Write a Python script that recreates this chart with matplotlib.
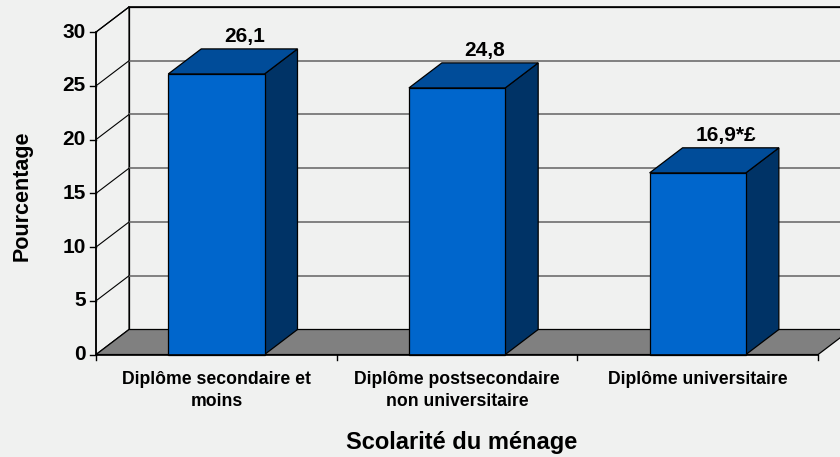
import matplotlib
matplotlib.use("Agg")
import matplotlib.pyplot as plt
from matplotlib.patches import Polygon

# -- Data ---------------------------------------------------------------------
categories = ["Diplôme secondaire et\nmoins",
              "Diplôme postsecondaire\nnon universitaire",
              "Diplôme universitaire"]
values = [26.1, 24.8, 16.9]
value_labels = ["26,1", "24,8", "16,9*£"]
yticks = [0, 5, 10, 15, 20, 25, 30]

# -- Style --------------------------------------------------------------------
BG = "#F0F1F0"
FRONT = "#0066CC"
TOP = "#004C99"
SIDE = "#003366"
FLOOR = "#808080"
GRID = "#6E6E6E"
FONT = "Liberation Sans"

DX, DY = 0.137, 2.33       # 3D depth offset, in data units
BAR_W = 0.40
YMAX = 30
N = len(categories)

fig = plt.figure(figsize=(8.4, 4.57), dpi=100, facecolor=BG)
ax = fig.add_axes([0, 0, 1, 1])
ax.set_xlim(-0.399, 3.091)
ax.set_ylim(-9.53, 32.98)
ax.axis("off")
ax.set_facecolor(BG)


def poly(pts, fc, ec="black", lw=0.9, z=1):
    ax.add_patch(Polygon(pts, closed=True, facecolor=fc, edgecolor=ec,
                         linewidth=lw, zorder=z, joinstyle="miter"))


# back wall and left wall
xr = N + DX
poly([(DX, DY), (xr + 1, DY), (xr + 1, YMAX + DY), (DX, YMAX + DY)], BG, z=1)
poly([(0, 0), (DX, DY), (DX, YMAX + DY), (0, YMAX)], BG, z=1)

# gridlines
for v in yticks[1:-1]:
    ax.plot([DX, xr + 1], [v + DY, v + DY], color=GRID, lw=1.2, zorder=2)
for v in yticks[1:]:
    ax.plot([0, DX], [v, v + DY], color="black", lw=0.8, zorder=2)
ax.plot([DX, xr + 1], [YMAX + DY] * 2, color="black", lw=1.2, zorder=2)

# floor
poly([(0, 0), (N, 0), (N + DX, DY), (DX, DY)], FLOOR, z=3)

# bars
for i, v in enumerate(values):
    x0 = i + 0.5 - BAR_W / 2
    x1 = x0 + BAR_W
    poly([(x1, 0), (x1 + DX, DY), (x1 + DX, v + DY), (x1, v)], SIDE, z=4)
    poly([(x0, v), (x1, v), (x1 + DX, v + DY), (x0 + DX, v + DY)], TOP, z=4)
    poly([(x0, 0), (x1, 0), (x1, v), (x0, v)], FRONT, z=5)
    ax.text((x0 + x1) / 2 + DX * 0.85, v + DY + 0.3, value_labels[i],
            ha="center", va="bottom", fontsize=15, fontweight="bold",
            family=FONT, zorder=6)

# axes lines and ticks
ax.plot([0, 0], [0, YMAX], color="black", lw=1.2, zorder=6)
ax.plot([0, N], [0, 0], color="black", lw=1.2, zorder=6)
for v in yticks:
    ax.plot([-0.025, 0], [v, v], color="black", lw=1.0, zorder=6)
    ax.text(-0.042, v, str(v), ha="right", va="center", fontsize=15,
            fontweight="bold", family=FONT)
for i in range(N + 1):
    ax.plot([i, i], [0, -0.55], color="black", lw=1.0, zorder=6)
for i, c in enumerate(categories):
    ax.text(i + 0.5, -1.5, c, ha="center", va="top", fontsize=12.7,
            fontweight="bold", family=FONT, linespacing=1.38)

ax.text(1.52, -8.14, "Scolarité du ménage", ha="center", va="center",
        fontsize=17, fontweight="bold", family=FONT)
ax.text(-0.307, 14.8, "Pourcentage", ha="center", va="center", rotation=90,
        fontsize=15.5, fontweight="bold", family=FONT)

fig.savefig("out.png", dpi=100, facecolor=BG)
